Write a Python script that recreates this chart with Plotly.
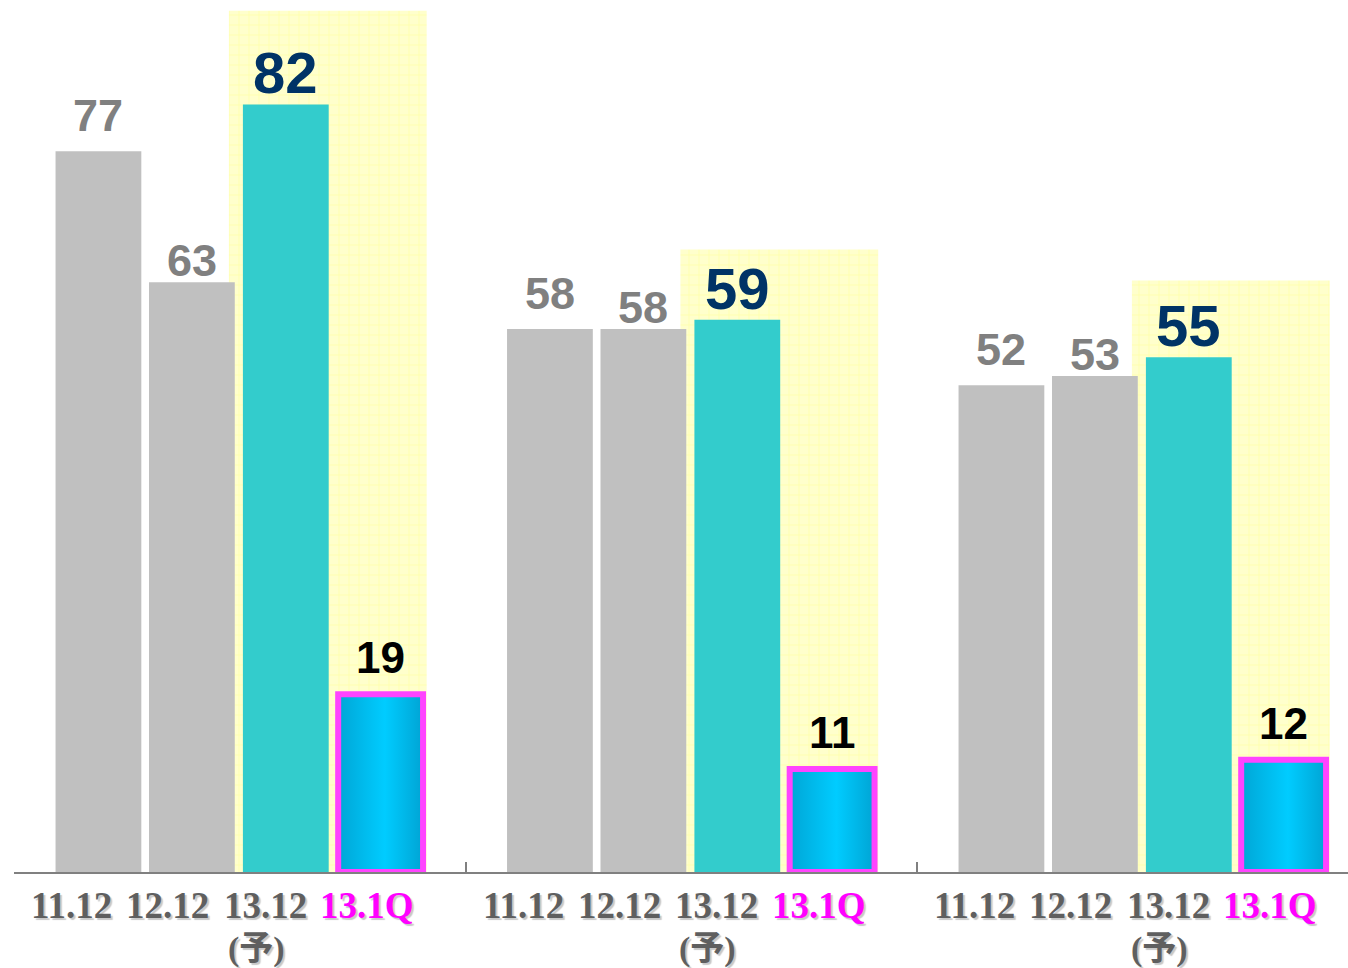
import plotly.graph_objects as go

# ---- data ----
categories = ["11.12", "12.12", "13.12", "13.1Q"]
sub_label = "(予)"
v_1112 = [77, 58, 52]
v_1212 = [63, 58, 53]
v_1312 = [82, 59, 55]
v_131q = [19, 11, 12]
highlight_top = [92, 66.5, 63.2]

# ---- layout / style ----
SLOT = [0.187, 0.394, 0.602, 0.812]       # bar centre offsets within a group
LABEL_POS = [0.128, 0.341, 0.556, 0.782]  # category label centres within a group
BAR_W = 0.19
Q_W = 0.188
HL_CENTER, HL_W = 0.695, 0.438
groups = list(range(3))

GREY_BAR = "#C0C0C0"
TEAL = "#33CCCC"
YELLOW = "#FFFFCC"
GRID_Y = "#FFFF88"
MAGENTA = "#FF44FF"
LABEL_GAP = [8, -6, -3, 10]               # yshift of value labels (px)
LABEL_COL = ["#808080", "#808080", "#003366", "#000000"]
LABEL_SIZE = [45, 45, 58, 44]

fig = go.Figure()

# yellow highlight area
fig.add_bar(
    x=[g + HL_CENTER for g in groups], y=highlight_top, width=HL_W,
    marker=dict(color=YELLOW, line=dict(width=0),
                pattern=dict(shape="+", fgcolor=GRID_Y, bgcolor=YELLOW,
                             size=10, solidity=0.15)),
    hoverinfo="skip", showlegend=False,
)

series = [v_1112, v_1212, v_1312]
colors = [GREY_BAR, GREY_BAR, TEAL]
for i, vals in enumerate(series):
    fig.add_bar(
        x=[g + SLOT[i] for g in groups], y=vals, width=BAR_W,
        marker=dict(color=colors[i], line=dict(width=0)),
        hoverinfo="skip", showlegend=False,
    )

# 13.1Q gradient bars with magenta frame
for g, v in zip(groups, v_131q):
    x0 = g + SLOT[3] - Q_W / 2
    x1 = g + SLOT[3] + Q_W / 2
    fig.add_trace(go.Scatter(
        x=[x0, x0, x1, x1, x0], y=[0, v, v, 0, 0],
        mode="lines", fill="toself",
        fillgradient=dict(type="horizontal",
                          colorscale=[[0, "#00A6D6"], [0.55, "#00CCFF"], [1, "#00A4D4"]]),
        line=dict(color=MAGENTA, width=6),
        hoverinfo="skip", showlegend=False,
    ))

annotations = []
all_series = [v_1112, v_1212, v_1312, v_131q]
for i, vals in enumerate(all_series):
    for g, v in zip(groups, vals):
        annotations.append(dict(
            x=g + SLOT[i], y=v, xref="x", yref="y", text=str(v),
            showarrow=False, yanchor="bottom", yshift=LABEL_GAP[i],
            font=dict(family="Liberation Sans, Arial", size=LABEL_SIZE[i],
                      color=LABEL_COL[i], weight="bold"),
        ))

for g in groups:
    for i, cat in enumerate(categories):
        col = "#FF00FF" if i == 3 else "#5F5F5F"
        annotations.append(dict(
            x=g + LABEL_POS[i], y=0, xref="x", yref="paper", text=cat,
            showarrow=False, yanchor="middle", yshift=-33,
            font=dict(family="Liberation Serif, Times New Roman", size=37,
                      color=col, weight="bold",
                      shadow="2px 2px 1px #C8C8C8"),
        ))
    annotations.append(dict(
        x=g + LABEL_POS[2] - 0.02, y=0, xref="x", yref="paper", text=sub_label,
        showarrow=False, yanchor="middle", yshift=-77,
        font=dict(family="Liberation Serif, Noto Sans CJK JP", size=34,
                  color="#5F5F5F", weight="bold",
                  shadow="2px 2px 1px #C8C8C8"),
    ))

fig.update_layout(
    width=1348, height=968,
    margin=dict(l=14, r=0, t=0, b=96),
    paper_bgcolor="white", plot_bgcolor="white",
    barmode="overlay",
    annotations=annotations,
    xaxis=dict(range=[0, 1334 / 451.5], showgrid=False, zeroline=False,
               showline=True, linecolor="#808080", linewidth=2,
               ticks="inside", ticklen=10, tickwidth=2, tickcolor="#808080",
               tickvals=[0, 1, 2], showticklabels=False, fixedrange=True),
    yaxis=dict(range=[0, 93.16], visible=False, showgrid=False, zeroline=False,
               fixedrange=True),
)

fig.write_html(
    "out.html",
    config={"displayModeBar": False, "staticPlot": True},
    post_script="document.body.style.margin='0px';document.body.style.overflow='hidden';",
)
